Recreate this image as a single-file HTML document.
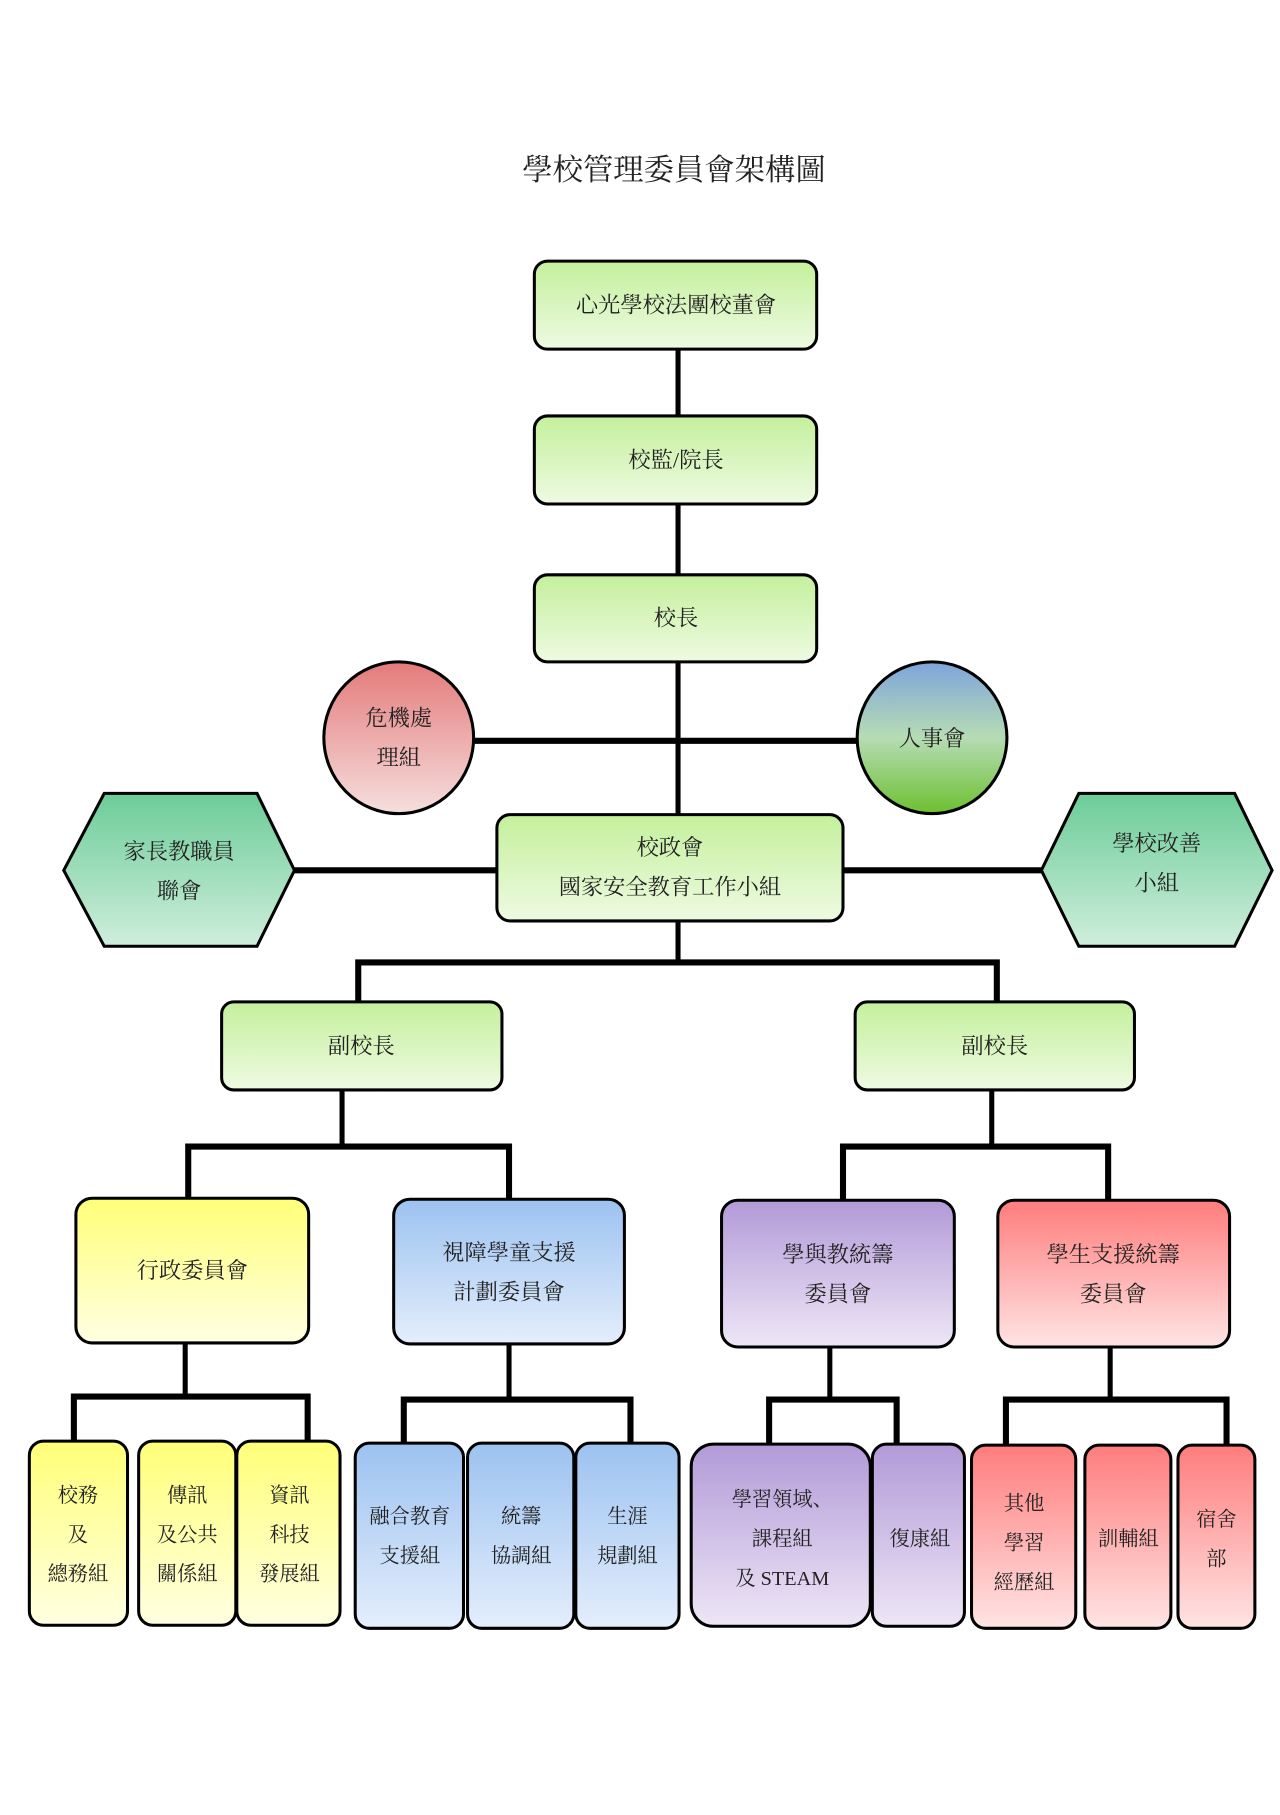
<!DOCTYPE html>
<html><head><meta charset="utf-8"><style>
html,body{margin:0;padding:0;background:#fff}
svg text{font-family:"Liberation Serif","Noto Serif CJK SC","Noto Sans CJK TC",serif;fill:#222;text-anchor:middle}
</style></head><body>
<svg width="1280" height="1810" viewBox="0 0 1280 1810" xmlns="http://www.w3.org/2000/svg">
<defs>
<linearGradient id="g" x1="0" y1="0" x2="0" y2="1"><stop offset="0" stop-color="#c4f09c"/><stop offset="1" stop-color="#eefae2"/></linearGradient>
<linearGradient id="y" x1="0" y1="0" x2="0" y2="1"><stop offset="0" stop-color="#ffff78"/><stop offset="1" stop-color="#ffffe2"/></linearGradient>
<linearGradient id="b" x1="0" y1="0" x2="0" y2="1"><stop offset="0" stop-color="#9cc2f0"/><stop offset="1" stop-color="#e4eefc"/></linearGradient>
<linearGradient id="p" x1="0" y1="0" x2="0" y2="1"><stop offset="0" stop-color="#b29ad8"/><stop offset="1" stop-color="#eee6f6"/></linearGradient>
<linearGradient id="r" x1="0" y1="0" x2="0" y2="1"><stop offset="0" stop-color="#ff7c7c"/><stop offset="1" stop-color="#ffe4e4"/></linearGradient>
<linearGradient id="cr" x1="0" y1="0" x2="0" y2="1"><stop offset="0" stop-color="#e47a7a"/><stop offset="1" stop-color="#f6dede"/></linearGradient>
<linearGradient id="cb" x1="0" y1="0" x2="0" y2="1"><stop offset="0" stop-color="#7ea4dc"/><stop offset="0.5" stop-color="#b6dcb4"/><stop offset="1" stop-color="#6cc030"/></linearGradient>
<linearGradient id="h" x1="0" y1="0" x2="0" y2="1"><stop offset="0" stop-color="#6ccc98"/><stop offset="1" stop-color="#cfeedc"/></linearGradient>
</defs>
<g transform="scale(1.012)">
<text x="666" y="178" font-size="30">學校管理委員會架構圖</text>
<g stroke="#000" stroke-width="5" fill="none">
<line x1="670" y1="345" x2="670" y2="411"/>
<line x1="670" y1="498" x2="670" y2="568"/>
<line x1="670" y1="654" x2="670" y2="805"/>
<line x1="469" y1="732" x2="846" y2="732" stroke-width="6"/>
<line x1="291" y1="860" x2="491" y2="860" stroke-width="6"/>
<line x1="833" y1="860" x2="1029" y2="860" stroke-width="6"/>
<line x1="670" y1="910" x2="670" y2="951"/>
<polyline points="354,990 354,951 985,951 985,990" stroke-width="6"/>
<polyline points="338,1077 338,1133"/>
<polyline points="186,1185 186,1133 503,1133 503,1185" stroke-width="6"/>
<polyline points="980,1077 980,1133"/>
<polyline points="833,1185 833,1133 1095,1133 1095,1185" stroke-width="6"/>
<line x1="183" y1="1327" x2="183" y2="1380"/>
<polyline points="73,1424 73,1380 304,1380 304,1424" stroke-width="6"/>
<line x1="503" y1="1327" x2="503" y2="1383"/>
<polyline points="399,1426 399,1383 623,1383 623,1426" stroke-width="6"/>
<line x1="820" y1="1331" x2="820" y2="1383"/>
<polyline points="760,1427 760,1383 886,1383 886,1427" stroke-width="6"/>
<line x1="1097" y1="1331" x2="1097" y2="1383"/>
<polyline points="994,1428 994,1383 1212,1383 1212,1428" stroke-width="6"/>
</g>
<g stroke="#000" stroke-width="3">
<rect x="528" y="258" width="279" height="87" rx="13" fill="url(#g)"/>
<rect x="528" y="411" width="279" height="87" rx="13" fill="url(#g)"/>
<rect x="528" y="568" width="279" height="86" rx="13" fill="url(#g)"/>
<ellipse cx="394" cy="729" rx="74" ry="75" fill="url(#cr)"/>
<ellipse cx="921" cy="729" rx="74" ry="75" fill="url(#cb)"/>
<rect x="491" y="805" width="342" height="105" rx="13" fill="url(#g)"/>
<polygon points="63,860 103,784 254,784 291,860 254,935 103,935" fill="url(#h)"/>
<polygon points="1029,860 1066,784 1220,784 1257,860 1220,935 1066,935" fill="url(#h)"/>
<rect x="219" y="990" width="277" height="87" rx="12" fill="url(#g)"/>
<rect x="845" y="990" width="276" height="87" rx="12" fill="url(#g)"/>
<rect x="75" y="1184" width="230" height="143" rx="16" fill="url(#y)"/>
<rect x="389" y="1185" width="228" height="143" rx="16" fill="url(#b)"/>
<rect x="713" y="1186" width="230" height="145" rx="16" fill="url(#p)"/>
<rect x="986" y="1186" width="229" height="145" rx="16" fill="url(#r)"/>
<rect x="29" y="1424" width="97" height="182" rx="14" fill="url(#y)"/>
<rect x="137" y="1424" width="96" height="182" rx="14" fill="url(#y)"/>
<rect x="234" y="1424" width="102" height="182" rx="14" fill="url(#y)"/>
<rect x="351" y="1426" width="107" height="183" rx="14" fill="url(#b)"/>
<rect x="462" y="1426" width="105" height="183" rx="14" fill="url(#b)"/>
<rect x="569" y="1426" width="102" height="183" rx="14" fill="url(#b)"/>
<rect x="683" y="1427" width="177" height="180" rx="22" fill="url(#p)"/>
<rect x="862" y="1427" width="91" height="180" rx="14" fill="url(#p)"/>
<rect x="960" y="1428" width="103" height="181" rx="14" fill="url(#r)"/>
<rect x="1072" y="1428" width="85" height="181" rx="14" fill="url(#r)"/>
<rect x="1164" y="1428" width="76" height="181" rx="14" fill="url(#r)"/>
</g>
<g font-size="22">
<text x="668" y="309">心光學校法團校董會</text>
<text x="668" y="462">校監/院長</text>
<text x="668" y="618">校長</text>
<text x="394" y="717">危機處</text><text x="394" y="756">理組</text>
<text x="921" y="737">人事會</text>
<text x="662" y="845">校政會</text><text x="662" y="884">國家安全教育工作小組</text>
<text x="177" y="849">家長教職員</text><text x="177" y="888">聯會</text>
<text x="1143" y="841">學校改善</text><text x="1143" y="880">小組</text>
<text x="357" y="1041">副校長</text>
<text x="983" y="1041">副校長</text>
<text x="190" y="1263">行政委員會</text>
<text x="503" y="1245">視障學童支援</text><text x="503" y="1284">計劃委員會</text>
<text x="828" y="1247">學與教統籌</text><text x="828" y="1286">委員會</text>
<text x="1100" y="1247">學生支援統籌</text><text x="1100" y="1286">委員會</text>
</g>
<g font-size="20">
<text x="77" y="1484">校務</text><text x="77" y="1523">及</text><text x="77" y="1562">總務組</text>
<text x="185" y="1484">傳訊</text><text x="185" y="1523">及公共</text><text x="185" y="1562">關係組</text>
<text x="286" y="1484">資訊</text><text x="286" y="1523">科技</text><text x="286" y="1562">發展組</text>
<text x="405" y="1505">融合教育</text><text x="405" y="1544">支援組</text>
<text x="515" y="1505">統籌</text><text x="515" y="1544">協調組</text>
<text x="620" y="1505">生涯</text><text x="620" y="1544">規劃組</text>
<text x="773" y="1488">學習領域、</text><text x="773" y="1527">課程組</text><text x="773" y="1566">及 STEAM</text>
<text x="909" y="1527">復康組</text>
<text x="1012" y="1492">其他</text><text x="1012" y="1531">學習</text><text x="1012" y="1570">經歷組</text>
<text x="1115" y="1527">訓輔組</text>
<text x="1202" y="1508">宿舍</text><text x="1202" y="1547">部</text>
</g>
</g>
</svg>
</body></html>
